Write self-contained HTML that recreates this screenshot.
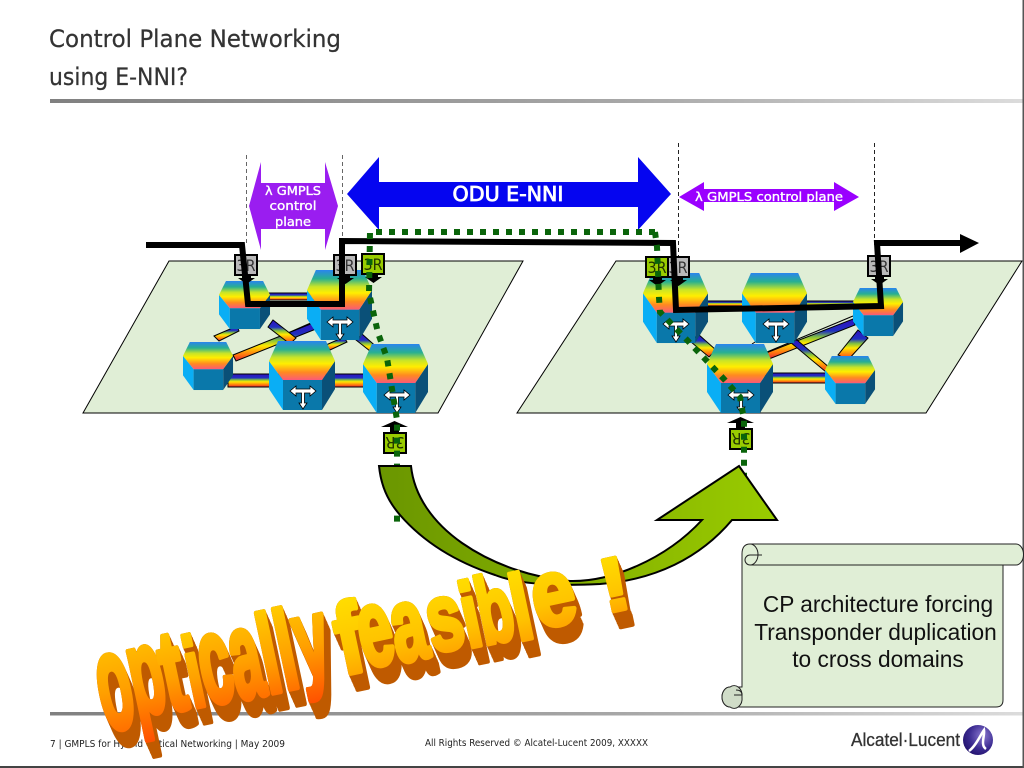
<!DOCTYPE html>
<html><head><meta charset="utf-8"><style>html,body{margin:0;padding:0;background:#fff;width:1024px;height:768px;overflow:hidden}svg{display:block}</style></head><body>
<svg xmlns="http://www.w3.org/2000/svg" width="1024" height="768" viewBox="0 0 1024 768" font-family="'DejaVu Sans','Liberation Sans',sans-serif">
<defs>
<linearGradient id="hex" x1="0" y1="0" x2="0" y2="1"><stop offset="0" stop-color="#2a84ee"/><stop offset=".22" stop-color="#28b090"/><stop offset=".42" stop-color="#c8e428"/><stop offset=".58" stop-color="#ffee00"/><stop offset=".8" stop-color="#ff8a20"/><stop offset="1" stop-color="#fa5a78"/></linearGradient>
<linearGradient id="bar" x1="0" y1="0" x2="0" y2="1"><stop offset="0" stop-color="#3010c0"/><stop offset=".3" stop-color="#2030c0"/><stop offset=".45" stop-color="#80c040"/><stop offset=".6" stop-color="#ffe800"/><stop offset=".85" stop-color="#ff7010"/><stop offset="1" stop-color="#e02040"/></linearGradient>
<linearGradient id="line1" x1="0" y1="0" x2="1" y2="0"><stop offset="0" stop-color="#808080"/><stop offset=".6" stop-color="#a8a8a8"/><stop offset="1" stop-color="#dcdcdc"/></linearGradient>
<linearGradient id="curve" x1="0" y1="0" x2="1" y2="0"><stop offset="0" stop-color="#6a9600"/><stop offset=".5" stop-color="#85b000"/><stop offset="1" stop-color="#99cc00"/></linearGradient>
<linearGradient id="wa" x1="0" y1="0" x2="0" y2="1"><stop offset="0" stop-color="#ffd800"/><stop offset=".55" stop-color="#ffa000"/><stop offset="1" stop-color="#ff5200"/></linearGradient>
<linearGradient id="wb" x1="0" y1="0" x2="0" y2="1"><stop offset="0" stop-color="#ffe400"/><stop offset=".6" stop-color="#ffc400"/><stop offset="1" stop-color="#ff9000"/></linearGradient>
<radialGradient id="logo" cx=".65" cy=".35" r=".75"><stop offset="0" stop-color="#8a78d0"/><stop offset=".6" stop-color="#3a2a90"/><stop offset="1" stop-color="#20106a"/></radialGradient>
<filter id="ex" filterUnits="userSpaceOnUse" x="40" y="500" width="660" height="268" color-interpolation-filters="sRGB">
<feOffset in="SourceAlpha" dx="1" dy="2.300" result="a1"/>
<feMerge result="m1"><feMergeNode in="a1"/><feMergeNode in="SourceAlpha"/></feMerge>
<feOffset in="m1" dx="2" dy="4.600" result="a2"/>
<feMerge result="m2"><feMergeNode in="a2"/><feMergeNode in="m1"/></feMerge>
<feOffset in="m2" dx="4" dy="9.200" result="a3"/>
<feMerge result="m3"><feMergeNode in="a3"/><feMergeNode in="m2"/></feMerge>
<feFlood flood-color="#bf5a00"/><feComposite in2="m3" operator="in" result="ext"/>
<feMerge><feMergeNode in="ext"/><feMergeNode in="SourceGraphic"/></feMerge>
</filter>
<symbol id="node" viewBox="0 0 66 69" width="66" height="69" overflow="visible">
<polygon points="0,20 14,39 14,69 0,48" fill="#0aaef5"/>
<polygon points="66,20 53,39 53,69 66,48" fill="#0a5078"/>
<rect x="14" y="39" width="39" height="30" fill="#0a78aa"/>
<polygon points="9,0 57,0 66,20 53,39 14,39 0,20" fill="url(#hex)"/>
</symbol>
<g id="t" fill="#fff" stroke="#000" stroke-width=".8"><polygon points="-13,0 -7,-5 -7,-2 7,-2 7,-5 13,0 7,5 7,2 1.5,2 1.5,12 4,12 0,18 -4,12 -1.5,12 -1.5,2 -7,2 -7,5"/></g>
<g id="b3"><polygon points="7,20 16,20 16,23 20,23 11.500,29 3,23 7,23" fill="#000"/><rect x="0" y="0" width="22" height="20" fill="#b9b9b9" stroke="#000" stroke-width="2"/><text x="11" y="16" text-anchor="middle" font-size="16" fill="#333" textLength="19" lengthAdjust="spacingAndGlyphs">3R</text></g>
<g id="g3"><polygon points="7,20 16,20 16,23 20,23 11.500,29 3,23 7,23" fill="#000"/><rect x="0" y="0" width="22" height="20" fill="#99cc00" stroke="#000" stroke-width="2"/><text x="11" y="16" text-anchor="middle" font-size="16" fill="#223300" textLength="19" lengthAdjust="spacingAndGlyphs">3R</text></g>
<g id="g3u"><polygon points="7,20 16,20 16,26 25,26 11.500,32 -2,26 7,26" fill="#000"/><rect x="0" y="0" width="22" height="20" fill="#99cc00" stroke="#000" stroke-width="2"/><text x="11" y="16" text-anchor="middle" font-size="16" fill="#223300" textLength="19" lengthAdjust="spacingAndGlyphs">3R</text></g>
</defs>

<text x="49" y="47" font-size="24" fill="#333" stroke="#333" stroke-width=".25" textLength="292" lengthAdjust="spacingAndGlyphs">Control Plane Networking</text>
<text x="49" y="85" font-size="24" fill="#333" stroke="#333" stroke-width=".25" textLength="139" lengthAdjust="spacingAndGlyphs">using E-NNI?</text>
<rect x="50" y="99" width="974" height="4" fill="url(#line1)"/>

<polygon points="169,261 523,261 438,413 83,413" fill="#e0eed6" stroke="#000" stroke-width="1"/>
<polygon points="616,261 1022,261 926,413 517,413" fill="#e0eed6" stroke="#000" stroke-width="1"/>

<g stroke="#666" stroke-width="1" stroke-dasharray="4 3" fill="none">
<line x1="246.500" y1="155" x2="246.500" y2="245"/><line x1="342.500" y1="155" x2="342.500" y2="240"/>
</g>
<g stroke="#222" stroke-width="1" stroke-dasharray="4 3" fill="none">
<line x1="678.500" y1="143" x2="678.500" y2="256"/><line x1="874.500" y1="143" x2="874.500" y2="245"/>
</g>

<polygon points="249,206 261,162 261,183 325,183 325,162 338,206 325,250 325,229 261,229 261,250" fill="#9a1df0"/>
<g fill="#fff" stroke="#fff" stroke-width=".35" font-size="12" text-anchor="middle">
<text x="293" y="195" textLength="56" lengthAdjust="spacingAndGlyphs">λ GMPLS</text><text x="293" y="210" textLength="47" lengthAdjust="spacingAndGlyphs">control</text><text x="293" y="226" textLength="36" lengthAdjust="spacingAndGlyphs">plane</text>
</g>
<polygon points="347,194 379,157 379,182 638,182 638,157 671,194 638,230 638,207 379,207 379,230" fill="#0505f0"/>
<text x="508" y="201" fill="#fff" stroke="#fff" stroke-width=".8" font-size="20" text-anchor="middle" textLength="111" lengthAdjust="spacingAndGlyphs">ODU E-NNI</text>
<polygon points="679,197 704,182 704,189 834,189 834,182 859,197 834,211 834,202 704,202 704,211" fill="#9a00ff"/>
<text x="695" y="201" fill="#fff" stroke="#fff" stroke-width=".35" font-size="12" textLength="148" lengthAdjust="spacingAndGlyphs">λ GMPLS control plane</text>

<!-- links -->
<g stroke="#000" stroke-width="1">
<rect x="265" y="293" width="50" height="7" fill="url(#bar)"/>
<rect x="228" y="374" width="140" height="13" fill="url(#bar)"/>
<line x1="233" y1="357" x2="313" y2="322"/>
<polygon points="233,355 313,323 316,329 236,361" fill="url(#bar)"/>
<polygon points="214,336 237,326 239,331 219,341" fill="url(#bar)"/>
<polygon points="273,320 296,338 290,344 268,327" fill="url(#bar)"/>
<polygon points="326,345 344,337 347,342 330,350" fill="url(#bar)"/>
<polygon points="362,334 380,350 375,355 356,340" fill="url(#bar)"/>
<rect x="700" y="301" width="160" height="5" fill="url(#bar)"/>
<rect x="765" y="373" width="65" height="10" fill="url(#bar)"/>
<polygon points="698,334 716,350 709,357 691,342" fill="url(#bar)"/>
<polygon points="766,353 853,319 855,325 769,359" fill="url(#bar)"/>
<line x1="767" y1="352" x2="853" y2="316"/>
<polygon points="858,330 868,338 848,360 838,355" fill="url(#bar)"/>
<polygon points="790,342 797,340 830,368 826,372" fill="url(#bar)"/>
<line x1="752" y1="344" x2="766" y2="335"/>
</g>

<!-- nodes -->
<use href="#node" transform="translate(219,281) scale(.773,.696)"/>
<use href="#node" transform="translate(307,270) scale(.985,1.015)"/>
<use href="#node" transform="translate(183,342) scale(.758,.696)"/>
<use href="#node" transform="translate(269,341)"/>
<use href="#node" transform="translate(363,344) scale(.985,1)"/>
<use href="#node" transform="translate(643,273) scale(.985,1.015)"/>
<use href="#node" transform="translate(742,273) scale(.985,1.015)"/>
<use href="#node" transform="translate(853,288) scale(.758,.696)"/>
<use href="#node" transform="translate(707,344)"/>
<use href="#node" transform="translate(825,356) scale(.758,.696)"/>
<use href="#t" transform="translate(340,322)"/>
<use href="#t" transform="translate(303,391)"/>
<use href="#t" transform="translate(397,395)"/>
<use href="#t" transform="translate(676,324)"/>
<use href="#t" transform="translate(776,324)"/>
<use href="#t" transform="translate(741,395)"/>

<!-- 3R boxes -->
<use href="#b3" transform="translate(235,255)"/>
<use href="#b3" transform="translate(334,255)"/>
<use href="#g3" transform="translate(362,254)"/>
<use href="#b3" transform="translate(667,257)"/>
<use href="#g3" transform="translate(646,257)"/>
<use href="#b3" transform="translate(868,256)"/>
<use href="#g3u" transform="translate(406,453) rotate(180)"/>
<use href="#g3u" transform="translate(752,449) rotate(180)"/>

<!-- black path -->
<polyline points="146,245 242,245 248,304 342,304 342,241 673,243 676,310 881,306 877,243 962,243" fill="none" stroke="#000" stroke-width="6"/>
<polygon points="960,234 979,243 960,253" fill="#000"/>

<!-- green dotted -->
<polyline points="655,232 370,232 369,293 378,333 387,358 397,420 397,528" fill="none" stroke="#0a640a" stroke-width="6" stroke-dasharray="6 7"/>
<polyline points="655,232 657,247 659,298 660,312 687,340 723,378 740,397 744,420 744,490" fill="none" stroke="#0a640a" stroke-width="6" stroke-dasharray="6 7"/>

<!-- curved arrow -->
<path d="M379,466 L411,466 C414,495 432,522 462,543 C495,566 535,578 570,581 C610,582 665,560 702,520 L657,520 L739,466 L777,520 L732,520 C700,558 655,580 600,584 C560,586 520,585 495,575 C450,560 420,538 400,515 C387,500 381,485 379,466 Z" fill="url(#curve)" stroke="#000" stroke-width="2"/>

<!-- footer -->
<rect x="50" y="712" width="974" height="3.500" fill="url(#line1)"/>
<text x="50" y="747" font-size="10" fill="#222" textLength="235" lengthAdjust="spacingAndGlyphs">7 | GMPLS for Hybrid Optical Networking | May 2009</text>
<text x="425" y="746" font-size="10" fill="#222" textLength="223" lengthAdjust="spacingAndGlyphs">All Rights Reserved © Alcatel-Lucent 2009, XXXXX</text>
<text x="851" y="746" font-size="18" fill="#333" stroke="#333" stroke-width=".3" font-family="'Liberation Sans',sans-serif" textLength="109" lengthAdjust="spacingAndGlyphs">Alcatel·Lucent</text>
<circle cx="978" cy="740" r="15" fill="url(#logo)"/>
<path d="M969,751 C976,746 981,734 984,730 C985,736 980,745 986,749" fill="none" stroke="#fff" stroke-width="2.500"/>
<rect x="0" y="766" width="1024" height="2" fill="#444"/>
<rect x="1022.500" y="0" width="1.500" height="768" fill="#555"/>

<!-- scroll -->
<path d="M750,544 L1016,544 A7.500,10.500 0 0 1 1016,565 L1003,565 L1003,700 Q1003,707 996,707 L730,707 A8,10 0 0 1 730,687 L742,687 L742,554 Q742,544 750,544 Z" fill="#e0eed6" stroke="#222" stroke-width="1"/>
<path d="M750,565 L1016,565" stroke="#222" fill="none"/>
<path d="M750,544 A8,10.500 0 0 1 750,565 A5,5 0 0 1 750,555 L762,555" fill="none" stroke="#222"/>
<path d="M730,687 A8,10 0 0 1 742,697 A8,10 0 0 1 730,707 A8,10 0 0 1 730,687 Z" fill="#d0dcc8" stroke="#222"/>
<path d="M736,690 Q742,690 742,695 L734,695" fill="none" stroke="#222"/>
<g font-family="'Liberation Sans',sans-serif" font-size="22.700" fill="#111" text-anchor="middle">
<text x="878" y="612">CP architecture forcing</text>
<text x="875.500" y="640">Transponder duplication</text>
<text x="878" y="667">to cross domains</text>
</g>

<!-- wordart -->
<g filter="url(#ex)" font-family="'Liberation Sans',sans-serif" font-weight="bold" font-size="100">
<g fill="url(#wa)" stroke="url(#wa)" stroke-width="5" stroke-linejoin="round">
<text transform="translate(106,731) rotate(-12) scale(.56,1.36)">o</text>
<text transform="translate(137,716) rotate(-12) scale(.56,1.22)">p</text>
<text transform="translate(169,712) rotate(-12) scale(.68,1.15)">t</text>
<text transform="translate(193,708) rotate(-12) scale(.58,1)">i</text>
<text transform="translate(207,705) rotate(-12) scale(.58,1.25)">c</text>
<text transform="translate(238,700) rotate(-12) scale(.56,1.25)">a</text>
<text transform="translate(268,694) rotate(-12) scale(.65,1.12)">l</text>
<text transform="translate(285,690) rotate(-12) scale(.65,1.12)">l</text>
<text transform="translate(302,679) rotate(-12) scale(.6,1.12)">y</text>
</g>
<g fill="url(#wb)" stroke="url(#wb)" stroke-width="5" stroke-linejoin="round">
<text transform="translate(343,675) rotate(-12) scale(.8,1)">f</text>
<text transform="translate(365,668) rotate(-12) scale(.62,1.1)">e</text>
<text transform="translate(398,663) rotate(-12) scale(.62,1.05)">a</text>
<text transform="translate(433,653) rotate(-12) scale(.65,.96)">s</text>
<text transform="translate(468,648) rotate(-12) scale(.65,.92)">i</text>
<text transform="translate(484,645) rotate(-12) scale(.58,.95)">b</text>
<text transform="translate(518,641) rotate(-12) scale(.7,.93)">l</text>
<text transform="translate(538,629) rotate(-12) scale(.78,.95)">e</text>
<text transform="translate(606,613) rotate(-12) scale(.85,.76)">!</text>
</g>
</g>
</svg>
</body></html>
